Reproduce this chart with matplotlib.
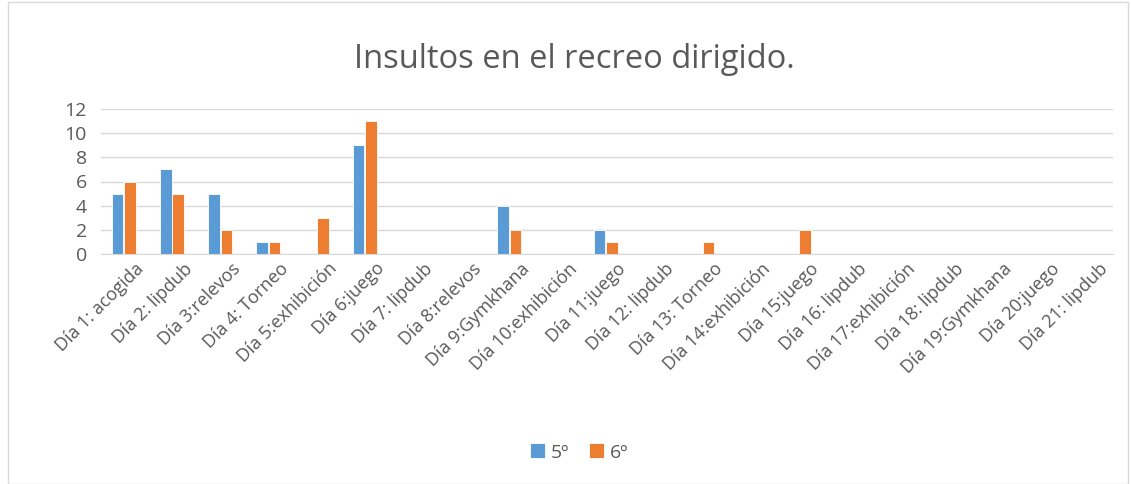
import matplotlib.pyplot as plt
import matplotlib.patches as patches
import matplotlib.transforms as mtransforms
import numpy as np

plt.rcParams['font.family'] = ['Open Sans', 'DejaVu Sans']

dias = ['Día 1: acogida', 'Día 2: lipdub', 'Día 3:relevos', 'Día 4: Torneo',
        'Día 5:exhibición', 'Día 6:juego', 'Día 7: lipdub', 'Día 8:relevos',
        'Día 9:Gymkhana', 'Día 10:exhibición', 'Día 11:juego', 'Día 12: lipdub',
        'Día 13: Torneo', 'Día 14:exhibición', 'Día 15:juego', 'Día 16: lipdub',
        'Día 17:exhibición', 'Día 18: lipdub', 'Día 19:Gymkhana', 'Día 20:juego',
        'Día 21: lipdub']
quinto = [5, 7, 5, 1, 0, 9, 0, 0, 4, 0, 2, 0, 0, 0, 0, 0, 0, 0, 0, 0, 0]
sexto = [6, 5, 2, 1, 3, 11, 0, 0, 2, 0, 1, 0, 1, 0, 2, 0, 0, 0, 0, 0, 0]

txt = '#595959'
fig = plt.figure(figsize=(11.31, 4.84), dpi=100)
fig.patches.append(patches.Rectangle((0.007, 0.0), 0.99, 0.995, transform=fig.transFigure,
                                     fill=False, edgecolor='#D9D9D9', lw=1))
ax = fig.add_axes([0.089, 0.475, 0.895, 0.30])

x = np.arange(len(dias))
w = 0.24
ax.bar(x - w / 2 - 0.03, quinto, w, color='#5B9BD5', edgecolor='white', lw=0.6, label='5º', zorder=3)
ax.bar(x + w / 2 - 0.01, sexto, w, color='#ED7D31', edgecolor='white', lw=0.6, label='6º', zorder=3)

ax.set_xlim(-0.5, len(dias) - 0.5)
ax.set_ylim(0, 12)
ax.set_yticks(range(0, 13, 2))
ax.grid(axis='y', color='#D9D9D9', lw=1, zorder=0)
for s in ['top', 'right', 'left']:
    ax.spines[s].set_visible(False)
ax.spines['bottom'].set_color('#D9D9D9')
ax.tick_params(axis='y', length=0, labelsize=14, labelcolor=txt, pad=10)
ax.tick_params(axis='x', length=0, labelsize=13, labelcolor=txt, pad=4)
ax.set_xticks(x)
ax.set_xticklabels(dias, rotation=45, ha='right', rotation_mode='anchor')
shift = mtransforms.ScaledTranslation(0.10, 0, fig.dpi_scale_trans)
for lab in ax.get_xticklabels():
    lab.set_transform(lab.get_transform() + shift)

fig.text(0.508, 0.877, 'Insultos en el recreo dirigido.', ha='center', va='center',
         fontsize=23.5, color=txt)
fig.legend(loc='center', bbox_to_anchor=(0.512, 0.065), ncol=2, frameon=False,
           fontsize=14, labelcolor=txt, handlelength=0.8, handleheight=0.8,
           handletextpad=0.3, columnspacing=1.0)

fig.savefig('out.png', dpi=100)
